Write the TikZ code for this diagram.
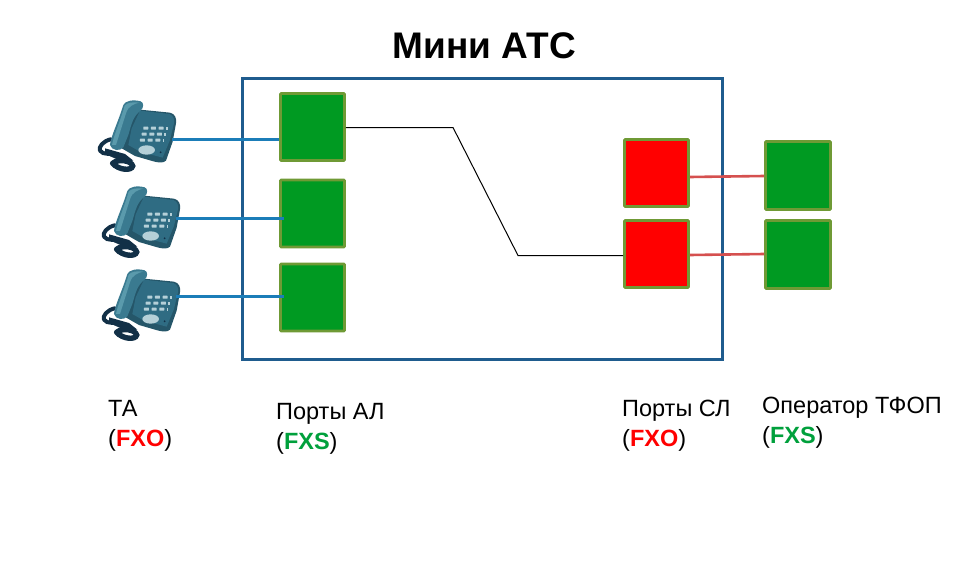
\documentclass[tikz,border=0pt]{standalone}
\usepackage{fontspec}
\setmainfont{Liberation Sans}
\definecolor{frameblue}{HTML}{1F5C8E}
\definecolor{wireblue}{HTML}{1B7DB8}
\definecolor{wirered}{HTML}{D5504F}
\definecolor{portgreen}{HTML}{009A22}
\definecolor{portred}{HTML}{FF0000}
\definecolor{portedge}{HTML}{6F9A35}
\definecolor{txtgreen}{HTML}{00A03C}
\definecolor{phbody}{HTML}{2F6C83}
\definecolor{phmid}{HTML}{3A7A90}
\definecolor{phlight}{HTML}{5A9AAC}
\definecolor{phkey}{HTML}{B5D0D8}
\definecolor{phdark}{HTML}{123047}
\tikzset{
 porta/.style={draw=portedge,line width=2.6pt,rounded corners=0.8pt,fill=portgreen,minimum width=64pt,minimum height=67pt,inner sep=0pt},
 portb/.style={porta,fill=portred},
 bluewire/.style={draw=wireblue,line width=3pt},
 redwire/.style={draw=wirered,line width=2.6pt},
 lbl/.style={anchor=north west,align=left,font=\fontsize{23.5}{30}\selectfont,inner sep=0pt},
 phone/.pic={
  \begin{scope}[x=0.3333pt,y=-0.3333pt]
   % cord
   \draw[phdark,line width=4pt,line cap=round,line join=round] (62,148) .. controls (40,153) and (25,170) .. (30,182) .. controls (40,197) and (62,187) .. (82,197);
   \draw[phdark,line width=5.4pt,line cap=round] (68,220) .. controls (85,240) and (125,244) .. (128,228) .. controls (125,212) and (85,205) .. (68,220);
   \fill[phdark] (45,175) -- (105,192) -- (130,212) -- (95,214) -- (45,192) -- cycle;
   % base
   \fill[phbody!80!black] (140,58) -- (240,68) .. controls (256,72) and (260,85) .. (258,100) -- (248,155) -- (228,212) .. controls (220,220) and (205,218) .. (190,214) -- (135,198) -- (95,175) -- (110,115) -- cycle;
   \fill[phbody] (150,62) -- (238,72) .. controls (250,76) and (254,88) .. (252,100) -- (240,150) -- (218,203) -- (150,185) -- (115,165) -- (125,115) -- cycle;
   % handset
   \fill[phmid] (100,45) .. controls (105,32) and (130,28) .. (152,34) .. controls (162,38) and (162,52) .. (152,62) .. controls (130,78) and (125,100) .. (115,135) -- (100,172) .. controls (90,185) and (65,182) .. (60,165) .. controls (62,140) and (85,95) .. (100,45) -- cycle;
   \fill[phlight] (104,47) .. controls (110,38) and (130,35) .. (148,38) .. controls (130,42) and (115,48) .. (108,70) -- (78,165) -- (66,165) .. controls (70,140) and (90,95) .. (104,47) -- cycle;
   % keys
   \foreach \r/\dx in {0/0,1/-5,2/-10}{
     \foreach \c in {0,1,2}{
       \fill[phkey,rounded corners=0.5pt] (160+\c*23+\dx,110+\r*18) rectangle +(15,9);
     }
     \fill[phkey] (228+\dx,110+\r*18) rectangle +(5,9);
   }
   % button
   \fill[phkey] (170,180) ellipse [x radius=25, y radius=14];
   \fill[phdark] (212,187) circle [radius=3];
  \end{scope}
 }
}
\begin{document}
\begin{tikzpicture}[x=1pt,y=-1pt]
\useasboundingbox (0,0) rectangle (960,567);
\fill[white] (0,0) rectangle (960,567);

\node[font=\fontsize{37}{40}\bfseries\selectfont,inner sep=0pt] (title) at (484.5,46) {Мини АТС};

\node[draw=frameblue,line width=3pt,minimum width=480pt,minimum height=280pt,inner sep=0pt] (pbx) at (482,219) {};

\pic at (90,90) {phone};
\pic at (94,176) {phone};
\pic at (94,259) {phone};

\coordinate (ph1) at (172,139);
\coordinate (ph2) at (176,218);
\coordinate (ph3) at (176,296);
\coordinate (j1) at (453,127.5);
\coordinate (j2) at (518,255.5);
\coordinate (r1a) at (689,177);
\coordinate (r1b) at (765,176);
\coordinate (r2a) at (689,255);
\coordinate (r2b) at (765,254);

\node[porta] (al1) at (312.5,127) {};
\node[porta] (al2) at (312.5,213.5) {};
\node[porta] (al3) at (312.5,297.5) {};
\node[portb] (sl1) at (656.5,173) {};
\node[portb] (sl2) at (656.5,254) {};
\node[porta,minimum width=65pt,minimum height=68pt] (op1) at (798,175.5) {};
\node[porta,minimum width=65pt,minimum height=68pt] (op2) at (798,254.5) {};

\draw[bluewire] (ph1) -- (al1.west |- ph1);
\draw[bluewire] (ph2) -- ([xshift=5pt]al2.west |- ph2);
\draw[bluewire] (ph3) -- ([xshift=5pt]al3.west |- ph3);
\draw[black,line width=1pt] (al1.east |- j1) -- (j1) -- (j2) -- (sl2.west |- j2);
\draw[redwire] (sl1.east |- r1a) -- (op1.west |- r1b);
\draw[redwire] (sl2.east |- r2a) -- (op2.west |- r2b);

\node[lbl] (t1) at (108,400) {ТА\\(\textcolor{portred}{\textbf{FXO}})};
\node[lbl] (t2) at (276,403) {Порты АЛ\\(\textcolor{txtgreen}{\textbf{FXS}})};
\node[lbl] (t3) at (622,400) {Порты СЛ\\(\textcolor{portred}{\textbf{FXO}})};
\node[lbl] (t4) at (762,397) {Оператор ТФОП\\(\textcolor{txtgreen}{\textbf{FXS}})};
\end{tikzpicture}
\end{document}
